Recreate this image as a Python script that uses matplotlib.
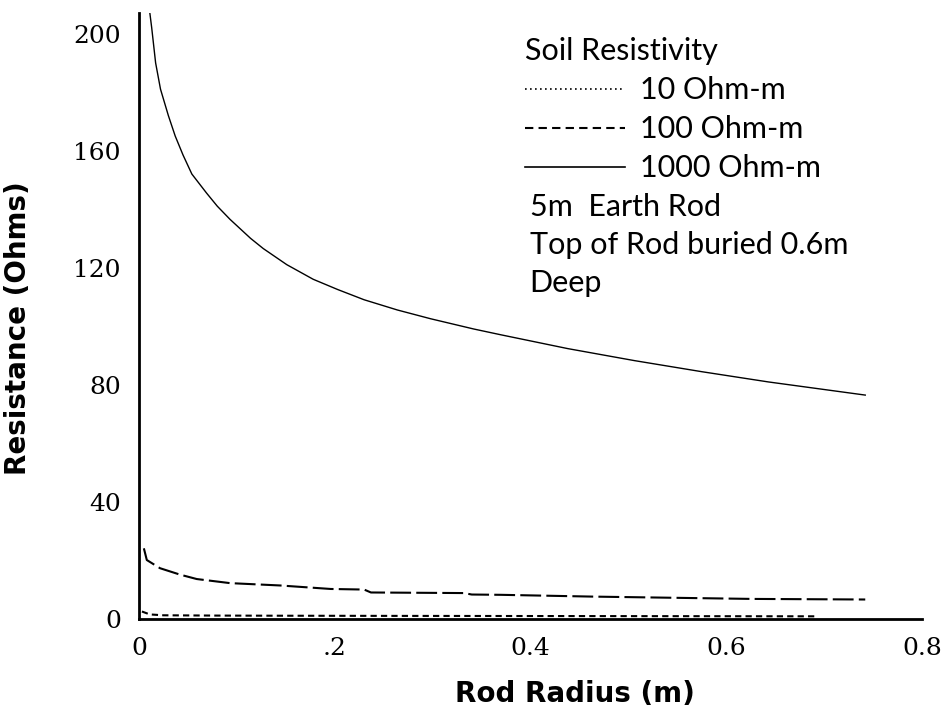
import numpy as np
import matplotlib
matplotlib.use("Agg")
import matplotlib.pyplot as plt

# rod radius (m) and read-off resistance (Ohms) for each soil resistivity
radius_1000 = [0.010, 0.013, 0.015, 0.017, 0.022, 0.030, 0.037, 0.045, 0.054, 0.069,
               0.080, 0.093, 0.114, 0.127, 0.151, 0.178, 0.203, 0.230, 0.264, 0.298,
               0.342, 0.370, 0.438, 0.506, 0.575, 0.643, 0.742]
res_1000 = [210, 202, 196, 190, 181, 172, 165, 158.5, 152, 145.5,
            141, 136.5, 130, 126.5, 121, 116, 112.5, 109, 105.5, 102.5,
            99, 97, 92.3, 88.2, 84.4, 80.9, 76.4]

radius_100 = [0.005, 0.008, 0.0215, 0.042, 0.059, 0.093, 0.144, 0.196, 0.230, 0.237,
              0.332, 0.340, 0.370, 0.462, 0.626, 0.742]
res_100 = [24, 20, 17.2, 15, 13.5, 12.1, 11.3, 10.1, 9.9, 8.9,
           8.7, 8.2, 8.1, 7.5, 6.7, 6.5]

radius_10 = [0.003, 0.011, 0.025, 0.08, 0.15, 0.254, 0.40, 0.55, 0.69]
res_10 = [2.4, 1.4, 1.1, 1.0, 0.95, 0.9, 0.85, 0.8, 0.75]

labels = ["10 Ohm-m", "100 Ohm-m", "1000 Ohm-m"]
x_ticks = [0, 0.2, 0.4, 0.6, 0.8]
x_ticklabels = ["0", ".2", "0.4", "0.6", "0.8"]
y_ticks = [0, 40, 80, 120, 160, 200]
notes = ["5m  Earth Rod", "Top of Rod buried 0.6m", "Deep"]

fig = plt.figure(figsize=(9.48, 7.08), dpi=100)
ax = fig.add_axes([0.1466, 0.1264, 0.826, 0.855])

ax.plot(radius_10, res_10, color="black", linewidth=1.5, linestyle=(0, (3, 2)), label=labels[0])
ax.plot(radius_100, res_100, color="black", linewidth=1.5, linestyle=(0, (10, 2.5)), label=labels[1])
ax.plot(radius_1000, res_1000, color="black", linewidth=1.0, linestyle="-", label=labels[2])

ax.set_xlim(0, 0.8)
ax.set_ylim(0, 207)
ax.set_xticks(x_ticks)
ax.set_xticklabels(x_ticklabels)
ax.set_yticks(y_ticks)

for s in ["top", "right"]:
    ax.spines[s].set_visible(False)
for s in ["left", "bottom"]:
    ax.spines[s].set_linewidth(2)
ax.tick_params(length=0, pad=13, labelsize=18)
for t in ax.get_xticklabels() + ax.get_yticklabels():
    t.set_family("DejaVu Serif")

lab_font = dict(fontsize=20, fontweight="bold", family="DejaVu Sans")
ax.set_xlabel("Rod Radius (m)", **lab_font)
ax.set_ylabel("Resistance (Ohms)", **lab_font)
ax.xaxis.set_label_coords(0.557, -0.102)
ax.yaxis.set_label_coords(-0.137, 0.48)

# legend lines use dotted/dashed styles as drawn in the key
handles = [plt.Line2D([], [], color="black", linewidth=1.2, linestyle=(0, (1, 2))),
           plt.Line2D([], [], color="black", linewidth=1.5, linestyle=(0, (4, 2.5))),
           plt.Line2D([], [], color="black", linewidth=1.2, linestyle="-")]
leg = ax.legend(handles, labels, title="Soil Resistivity", loc="upper left",
                bbox_to_anchor=(0.493, 0.960), frameon=False, handlelength=3.27,
                handletextpad=0.49, labelspacing=0.36, borderaxespad=0, borderpad=0,
                alignment="left", prop={"family": "Lato", "size": 22})
leg.get_title().set_fontsize(22)
leg.get_title().set_family("Lato")

for i, n in enumerate(notes):
    ax.text(0.499, 0.680 - i * 0.063, n, transform=ax.transAxes, fontsize=22,
            family="Lato", va="center", ha="left")

fig.savefig("out.png", dpi=100)
